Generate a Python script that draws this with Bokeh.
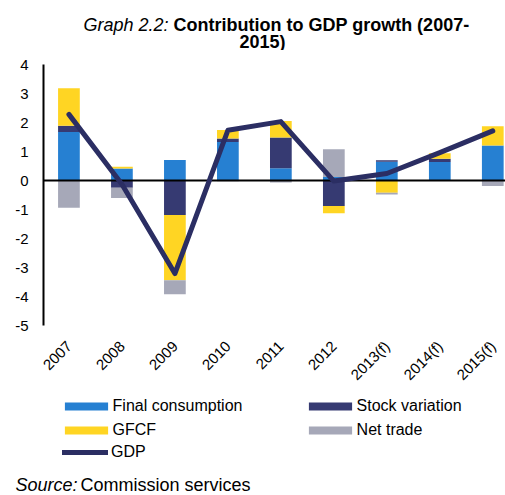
import math
import numpy as np
from bokeh.plotting import figure
from bokeh.models import Range1d, FixedTicker, Label, Legend, LegendItem
from bokeh.layouts import column
from bokeh.embed import file_html
from bokeh.resources import INLINE

# ---- data ----
years = ["2007", "2008", "2009", "2010", "2011", "2012", "2013(f)", "2014(f)", "2015(f)"]
final_consumption = [1.67, 0.41, 0.71, 1.33, 0.42, 0.12, 0.65, 0.64, 1.21]
stock_variation = [0.22, -0.25, -1.19, 0.12, 1.06, -0.88, 0.05, 0.11, 0.0]
gfcf = [1.29, 0.06, -2.25, 0.29, 0.57, -0.25, -0.42, 0.19, 0.66]
net_trade = [-0.94, -0.35, -0.48, -0.03, -0.07, 0.96, -0.06, 0.0, -0.19]
gdp = [2.28, -0.13, -3.21, 1.73, 2.03, -0.02, 0.24, 0.96, 1.71]
y_ticks = [-5, -4, -3, -2, -1, 0, 1, 2, 3, 4]

FONT = "Liberation Sans"
C_FC = "#2680D2"
C_SV = "#363A72"
C_GF = "#FFD523"
C_NT = "#A6A8B8"
C_GDP = "#2B2E63"

W = 505


def no_align(f):
    if "frame_align" in f.properties():
        f.frame_align = False


def blank_fig(h):
    f = figure(width=W, height=h, x_range=Range1d(0, 1), y_range=Range1d(0, 1),
               output_backend="svg", toolbar_location=None,
               x_axis_location=None, y_axis_location=None,
               min_border=0, min_border_left=0, min_border_right=0,
               min_border_top=0, min_border_bottom=0)
    f.grid.visible = False
    f.outline_line_color = None
    no_align(f)
    return f


def lab(f, x, y, text, style="normal", size="18px", align="left"):
    f.add_layout(Label(x=x, y=y, x_units="screen", y_units="screen", text=text,
                       text_font=FONT, text_font_size=size, text_font_style=style,
                       text_align=align, text_baseline="alphabetic", text_color="black"))


# ---- title ----
title_fig = blank_fig(50)
lab(title_fig, 168, 26, "Graph 2.2:", style="italic", align="right")
lab(title_fig, 173, 26, "Contribution to GDP growth (2007-", style="bold", align="left")
lab(title_fig, 262, 9, "2015)", style="bold", align="center")

# ---- main chart ----
xs = list(range(len(years)))
p = figure(width=W, height=343, x_range=Range1d(-0.48, 8.24), y_range=Range1d(-5, 4),
           output_backend="svg", toolbar_location=None,
           min_border_left=43, min_border_right=0, min_border_top=14, min_border_bottom=68)
no_align(p)
p.outline_line_color = None
p.xgrid.visible = False
p.ygrid.visible = False

series = [("Final consumption", final_consumption, C_FC),
          ("Stock variation", stock_variation, C_SV),
          ("GFCF", gfcf, C_GF),
          ("Net trade", net_trade, C_NT)]

pos = np.zeros(len(years))
neg = np.zeros(len(years))
for name, vals, color in series:
    v = np.array(vals, dtype=float)
    bottom = np.where(v >= 0, pos, neg)
    top = bottom + v
    pos = np.where(v >= 0, pos + v, pos)
    neg = np.where(v < 0, neg + v, neg)
    p.vbar(x=xs, bottom=bottom, top=top, width=0.41, fill_color=color, line_color=None)

p.hspan(y=[0], line_color="black", line_width=2)
p.line(x=xs, y=gdp, line_color=C_GDP, line_width=5, line_cap="round", line_join="round")

p.xaxis.ticker = FixedTicker(ticks=xs)
p.xaxis.major_label_overrides = {i: y for i, y in enumerate(years)}
p.xaxis.major_label_orientation = math.pi / 4
p.xaxis.axis_line_color = None
p.xaxis.major_tick_line_color = None
p.xaxis.minor_tick_line_color = None
p.xaxis.major_label_standoff = 12
p.xaxis.major_label_text_font = FONT
p.xaxis.major_label_text_font_size = "15px"
p.xaxis.major_label_text_color = "black"

p.yaxis.ticker = FixedTicker(ticks=y_ticks)
p.yaxis.major_label_overrides = {t: str(t) for t in y_ticks}
p.yaxis.axis_line_color = "black"
p.yaxis.axis_line_width = 2
p.yaxis.major_tick_line_color = None
p.yaxis.minor_tick_line_color = None
p.yaxis.major_tick_out = 0
p.yaxis.major_label_standoff = 15
p.yaxis.major_label_text_font = FONT
p.yaxis.major_label_text_font_size = "15px"
p.yaxis.major_label_text_color = "black"

# ---- legend + source ----
leg_fig = blank_fig(102)
# proxy renderers (outside the visible range) that only supply legend swatches
rb = {}
for name, vals, color in series:
    rb[name] = leg_fig.vbar(x=[-5], bottom=[-5], top=[-4], width=0.4,
                            fill_color=color, line_color=None)
rg = leg_fig.line(x=[-5, -4], y=[-5, -5], line_color=C_GDP, line_width=5, line_cap="round")


def mk_legend(items, x, y, gw, gh, standoff):
    lg = Legend(items=items, location=(x, y), orientation="vertical",
                glyph_width=gw, glyph_height=gh, label_height=20, spacing=4,
                padding=0, margin=0, label_standoff=standoff,
                border_line_color=None, background_fill_alpha=0,
                label_text_font=FONT, label_text_font_size="16px", label_text_color="black")
    leg_fig.add_layout(lg, "center")


mk_legend([LegendItem(label="Final consumption", renderers=[rb["Final consumption"]]),
           LegendItem(label="GFCF", renderers=[rb["GFCF"]])], 58.6, 55, 54, 10, 0)
mk_legend([LegendItem(label="Stock variation", renderers=[rb["Stock variation"]]),
           LegendItem(label="Net trade", renderers=[rb["Net trade"]])], 302.6, 55, 54, 10, 0)
mk_legend([LegendItem(label="GDP", renderers=[rg])], 62, 33, 46, 10, 3)

lab(leg_fig, 15, 11, "Source:", style="italic", size="18px", align="left")
lab(leg_fig, 80, 11, "Commission services", size="18px", align="left")

layout = column(title_fig, p, leg_fig, spacing=0)
open("out.html", "w").write(file_html(layout, INLINE))
